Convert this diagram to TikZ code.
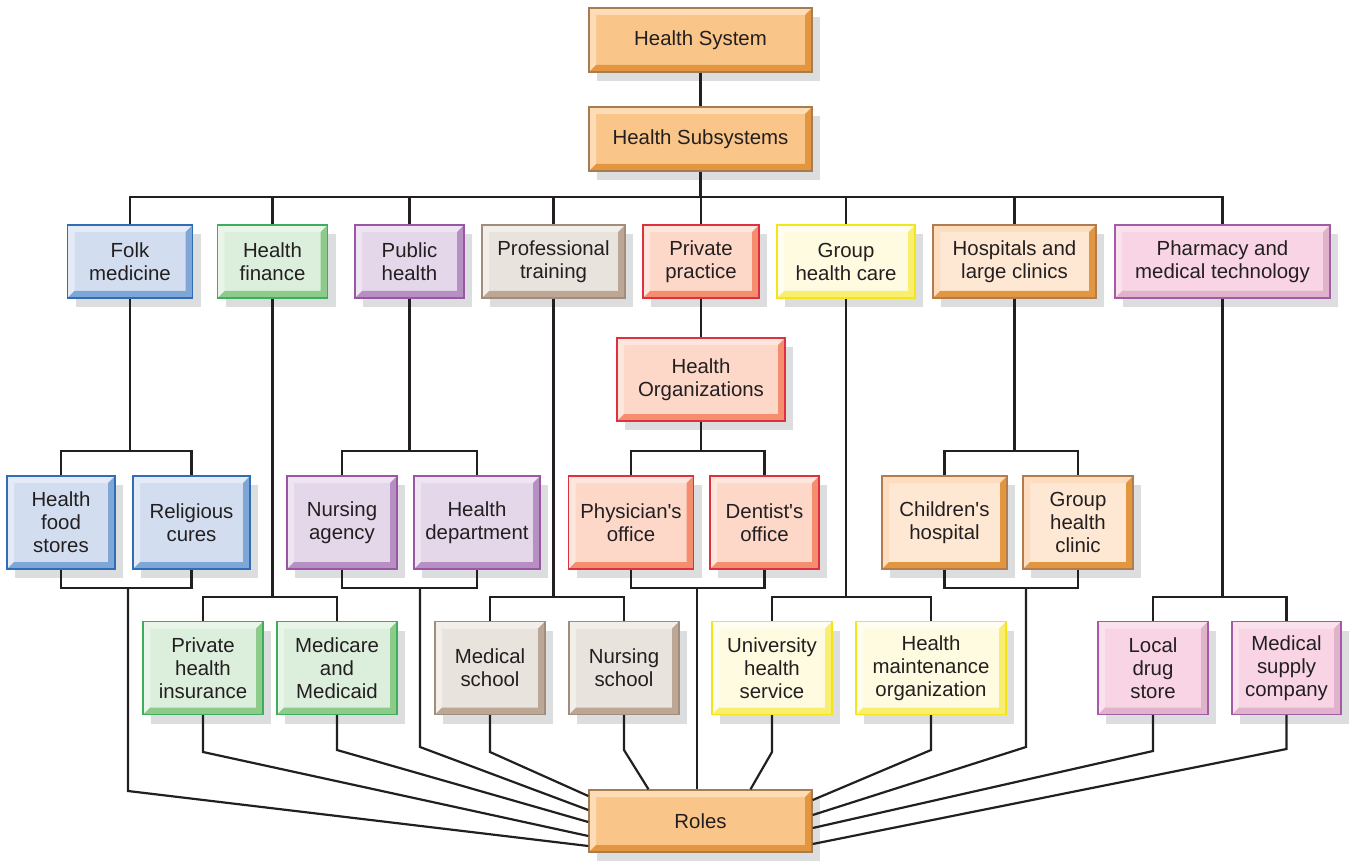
\documentclass[tikz,border=0pt]{standalone}
\usepackage{fontspec}
\setmainfont{Liberation Sans}
\usetikzlibrary{shadows}

\definecolor{ink}{HTML}{231F20}
\definecolor{shade}{HTML}{DCDDDE}
% orange (system, roles)
\definecolor{sysF}{HTML}{FAC589}\definecolor{sysL}{HTML}{FDDCB6}\definecolor{sysD}{HTML}{E3963F}\definecolor{sysB}{HTML}{A67C52}
% folk medicine
\definecolor{folkF}{HTML}{D2DEF0}\definecolor{folkL}{HTML}{E4EBF6}\definecolor{folkD}{HTML}{7EA7D8}\definecolor{folkB}{HTML}{2F6DB5}
% health finance
\definecolor{finF}{HTML}{DCEFDC}\definecolor{finL}{HTML}{E9F5E9}\definecolor{finD}{HTML}{8CCB8A}\definecolor{finB}{HTML}{3DAE5B}
% public health
\definecolor{pubF}{HTML}{E5D7EA}\definecolor{pubL}{HTML}{EFE5F2}\definecolor{pubD}{HTML}{B68FC3}\definecolor{pubB}{HTML}{9A56A5}
% professional training
\definecolor{profF}{HTML}{E9E3DD}\definecolor{profL}{HTML}{F2EEEA}\definecolor{profD}{HTML}{BCA797}\definecolor{profB}{HTML}{A48C7B}
% private practice
\definecolor{privF}{HTML}{FDD8C9}\definecolor{privL}{HTML}{FDE6DC}\definecolor{privD}{HTML}{F58E6E}\definecolor{privB}{HTML}{E0303F}
% group health care
\definecolor{grpF}{HTML}{FEFBE0}\definecolor{grpL}{HTML}{FFFDF0}\definecolor{grpD}{HTML}{F9EE6E}\definecolor{grpB}{HTML}{F2E51A}
% hospitals
\definecolor{hospF}{HTML}{FEE8D3}\definecolor{hospL}{HTML}{FDDDBF}\definecolor{hospD}{HTML}{E2963F}\definecolor{hospB}{HTML}{B27C4E}
% pharmacy
\definecolor{pharF}{HTML}{F8D4E4}\definecolor{pharL}{HTML}{FAE2ED}\definecolor{pharD}{HTML}{DFB3C9}\definecolor{pharB}{HTML}{A55AA8}

\newcommand{\boxfont}{\fontsize{10.2}{11.5}\selectfont}

\begin{document}
\begin{tikzpicture}[x=0.5pt, y=-0.5pt,
    box/.style={rectangle, draw=#1B, fill=#1F, line width=0.7pt, inner sep=2pt, align=center, font=\boxfont, text=ink,
        drop shadow={shadow xshift=4pt, shadow yshift=-4.5pt, fill=shade, opacity=1},
        path picture={
            \fill[#1L] (path picture bounding box.south west) -- (path picture bounding box.north west) -- (path picture bounding box.north east)
                -- ([xshift=-3.5pt,yshift=-3.5pt]path picture bounding box.north east) -- ([xshift=3.5pt,yshift=-3.5pt]path picture bounding box.north west)
                -- ([xshift=3.5pt,yshift=3.5pt]path picture bounding box.south west) -- cycle;
            \fill[#1D] (path picture bounding box.south west) -- (path picture bounding box.south east) -- (path picture bounding box.north east)
                -- ([xshift=-3.5pt,yshift=-3.5pt]path picture bounding box.north east) -- ([xshift=-3.5pt,yshift=3.5pt]path picture bounding box.south east)
                -- ([xshift=3.5pt,yshift=3.5pt]path picture bounding box.south west) -- cycle;
        }},
    top/.style={box=sys, minimum width=111.5pt, minimum height=32pt},
    row/.style={minimum height=36.5pt},
    low/.style={minimum height=46.5pt},
    link/.style={draw=ink, line width=1.1pt}
]
\useasboundingbox (0,0) rectangle (1350,861);

\node[top] (sys) at (700.5, 40) {Health System};
\node[top] (sub) at (700.5, 139) {Health Subsystems};

\node[box=folk,row,minimum width=62.5pt] (folk) at (130, 261.5) {Folk\\medicine};
\node[box=fin,row,minimum width=55pt] (fin) at (272.5, 261.5) {Health\\finance};
\node[box=pub,row,minimum width=54.5pt] (pub) at (409.5, 261.5) {Public\\health};
\node[box=prof,row,minimum width=71.5pt] (prof) at (553.5, 261.5) {Professional\\training};
\node[box=priv,row,minimum width=58pt] (priv) at (701, 261.5) {Private\\practice};
\node[box=grp,row,minimum width=69pt] (grp) at (846, 261.5) {Group\\health care};
\node[box=hosp,row,minimum width=81.5pt] (hosp) at (1014.5, 261.5) {Hospitals and\\large clinics};
\node[box=phar,row,minimum width=107.5pt] (phar) at (1222.5, 261.5) {Pharmacy and\\medical technology};

\node[box=priv,minimum width=84pt,minimum height=41.5pt] (org) at (701, 379.5) {Health\\Organizations};

\node[box=folk,low,minimum width=54pt] (food) at (61, 522.5) {Health\\food\\stores};
\node[box=folk,low,minimum width=58.5pt] (cures) at (191.5, 522.5) {Religious\\cures};
\node[box=pub,low,minimum width=55pt] (nagency) at (342, 522.5) {Nursing\\agency};
\node[box=pub,low,minimum width=63pt] (hdept) at (477, 522.5) {Health\\department};
\node[box=priv,low,minimum width=62.5pt] (phys) at (631, 522.5) {Physician\textquotesingle s\\office};
\node[box=priv,low,minimum width=54.5pt] (dent) at (764.5, 522.5) {Dentist\textquotesingle s\\office};
\node[box=hosp,low,minimum width=62.5pt] (child) at (944.5, 522.5) {Children\textquotesingle s\\hospital};
\node[box=hosp,low,minimum width=55pt] (gclinic) at (1078, 522.5) {Group\\health\\clinic};

\node[box=fin,low,minimum width=60pt] (pins) at (203, 668) {Private\\health\\insurance};
\node[box=fin,low,minimum width=60pt] (mcare) at (337, 668) {Medicare\\and\\Medicaid};
\node[box=prof,low,minimum width=55pt] (medsch) at (490, 668) {Medical\\school};
\node[box=prof,low,minimum width=55pt] (nursch) at (624, 668) {Nursing\\school};
\node[box=grp,low,minimum width=60pt] (uni) at (772, 668) {University\\health\\service};
\node[box=grp,low,minimum width=75pt] (hmo) at (931, 668) {Health\\maintenance\\organization};
\node[box=phar,low,minimum width=55pt] (drug) at (1153, 668) {Local\\drug\\store};
\node[box=phar,low,minimum width=54.5pt] (supply) at (1286.5, 668) {Medical\\supply\\company};

\node[top,minimum height=31pt] (roles) at (700.5, 821) {Roles};

% system to subsystems
\coordinate (bus) at (700.5, 197);
\draw[link] (sys) -- (sub);
\draw[link] (sub) -- (bus);
\draw[link] (bus) -| (folk);
\draw[link] (bus) -| (fin);
\draw[link] (bus) -| (pub);
\draw[link] (bus) -| (prof);
\draw[link] (bus) -| (priv);
\draw[link] (bus) -| (grp);
\draw[link] (bus) -| (hosp);
\draw[link] (bus) -| (phar);

% subsystems to organizations
\coordinate (folkJ) at (130, 451);
\coordinate (pubJ) at (409.5, 451);
\coordinate (orgJ) at (701, 451);
\coordinate (hospJ) at (1014.5, 451);
\draw[link] (folk) -- (folkJ);
\draw[link] (food) |- (folkJ) -| (cures);
\draw[link] (pub) -- (pubJ);
\draw[link] (nagency) |- (pubJ) -| (hdept);
\draw[link] (priv) -- (org);
\draw[link] (org) -- (orgJ);
\draw[link] (phys) |- (orgJ) -| (dent);
\draw[link] (hosp) -- (hospJ);
\draw[link] (child) |- (hospJ) -| (gclinic);

\coordinate (finJ) at (272.5, 597);
\coordinate (profJ) at (553.5, 597);
\coordinate (grpJ) at (846, 597);
\coordinate (pharJ) at (1222.5, 597);
\draw[link] (fin) -- (finJ);
\draw[link] (pins) |- (finJ) -| (mcare);
\draw[link] (prof) -- (profJ);
\draw[link] (medsch) |- (profJ) -| (nursch);
\draw[link] (grp) -- (grpJ);
\draw[link] (uni) |- (grpJ) -| (hmo);
\draw[link] (phar) -- (pharJ);
\draw[link] (drug) |- (pharJ) -| (supply);

% organizations to roles
\coordinate (folkK) at (128, 588);
\coordinate (folkR) at (128, 791);
\coordinate (pubK) at (420, 588);
\coordinate (pubR) at (420, 747);
\coordinate (physK) at (697, 588);
\coordinate (hospK) at (1026, 588);
\coordinate (hospR) at (1026, 747);
\draw[link] (food) |- (folkK) -| (cures);
\draw[link] (folkK) -- (folkR) -- ([yshift=-12.5pt]roles.west);
\draw[link] (nagency) |- (pubK) -| (hdept);
\draw[link] (pubK) -- (pubR) -- ([yshift=5.5pt]roles.west);
\draw[link] (phys) |- (physK) -| (dent);
\draw[link] (physK) -- (physK |- roles.north);
\draw[link] (child) |- (hospK) -| (gclinic);
\draw[link] (hospK) -- (hospR) -- ([yshift=3pt]roles.east);

\coordinate (pinsR) at (203, 752);
\coordinate (mcareR) at (337, 750);
\coordinate (medschR) at (490, 752);
\coordinate (nurschR) at (624, 750);
\coordinate (uniR) at (772, 752);
\coordinate (hmoR) at (931, 750);
\coordinate (drugR) at (1153, 751);
\coordinate (supplyR) at (1286.5, 749);
\draw[link] (pins) -- (pinsR) -- ([yshift=-7.5pt]roles.west);
\draw[link] (mcare) -- (mcareR) -- ([yshift=-0.5pt]roles.west);
\draw[link] (medsch) -- (medschR) -- ([yshift=12.5pt]roles.west);
\draw[link] (nursch) -- (nurschR) -- ([xshift=-26pt]roles.north);
\draw[link] (uni) -- (uniR) -- ([xshift=25pt]roles.north);
\draw[link] (hmo) -- (hmoR) -- ([yshift=10.5pt]roles.east);
\draw[link] (drug) -- (drugR) -- ([yshift=-3.5pt]roles.east);
\draw[link] (supply) -- (supplyR) -- ([yshift=-11.5pt]roles.east);
\end{tikzpicture}
\end{document}
